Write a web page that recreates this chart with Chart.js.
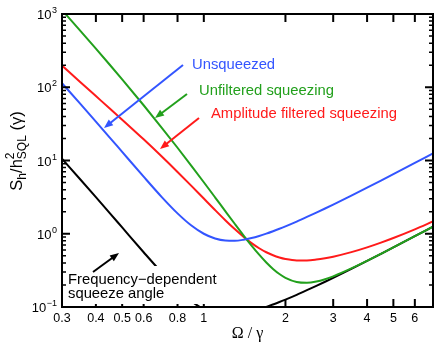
<!DOCTYPE html>
<html>
<head>
<meta charset="utf-8">
<script src="https://cdn.jsdelivr.net/npm/chart.js@4/dist/chart.umd.min.js"></script>
<style>
  html, body { margin: 0; padding: 0; background: #fff; }
</style>
</head>
<body>
<canvas id="c" width="436" height="347"></canvas>
<script>
// Omega / gamma
const freq = [0.3, 0.35, 0.4, 0.45, 0.5, 0.6, 0.7, 0.8, 0.9, 1.0, 1.1, 1.2, 1.3, 1.4, 1.5, 1.6,
  1.7, 1.8, 1.9, 2.0, 2.2, 2.4, 2.6, 2.8, 3.0, 3.5, 4, 4.5, 5, 6, 7];

// S_h / h_SQL^2(gamma)
const unsqueezed = [113.5, 59.64, 33.97, 20.58, 13.11, 6.014, 3.168, 1.899, 1.295, 1.0, 0.8616,
  0.8077, 0.8027, 0.8279, 0.8733, 0.9329, 1.003, 1.0825, 1.169, 1.2625, 1.467, 1.695, 1.943,
  2.212, 2.501, 3.313, 4.25, 5.313, 6.5, 9.25, 12.5];
const unfiltered = [1132.6, 593.7, 336.8, 202.8, 128.0, 56.77, 27.99, 14.93, 8.466, 5.05, 3.146,
  2.037, 1.369, 0.9533, 0.689, 0.5176, 0.405, 0.3307, 0.2817, 0.25, 0.2191, 0.2136, 0.2222,
  0.2394, 0.2623, 0.3363, 0.4273, 0.5324, 0.6506, 0.9252, 1.25];
const ampFiltered = [197.7, 117.9, 75.73, 51.27, 36.1, 19.45, 11.33, 6.983, 4.504, 3.025, 2.112,
  1.533, 1.158, 0.911, 0.7457, 0.6343, 0.5588, 0.508, 0.4742, 0.4525, 0.4328, 0.4327, 0.4439,
  0.4625, 0.4862, 0.5609, 0.6522, 0.7574, 0.8756, 1.15, 1.475];
const freqDepAngle = [10.56, 5.55, 3.16, 1.914, 1.219, 0.559, 0.2946, 0.1766, 0.1204, 0.093,
  0.082, 0.0785, 0.079, 0.0822, 0.087, 0.0933, 0.1003, 0.1083, 0.1169, 0.1263, 0.1467,
  0.1695, 0.1943, 0.2212, 0.2501, 0.3313, 0.425, 0.5313, 0.65, 0.925, 1.25];

const xTicks = [0.3, 0.4, 0.5, 0.6, 0.8, 1, 2, 3, 4, 5, 6];
const yDecades = [-1, 0, 1, 2, 3];

const BLUE = "#3355ff", GREEN = "#22a01c", RED = "#ff1a1a", BLACK = "#000";
const SANS = '"Liberation Sans", Arial, Helvetica, sans-serif';

const pts = (arr) => freq.map((f, i) => ({ x: f, y: arr[i] }));
const series = (data, color) => ({
  data: pts(data),
  borderColor: color,
  borderWidth: 2,
  pointRadius: 0,
  cubicInterpolationMode: "monotone",
  clip: 0,
});

function arrow(ctx, x1, y1, x2, y2, color) {
  const a = Math.atan2(y2 - y1, x2 - x1);
  const hl = 9, hw = 3.6;
  ctx.strokeStyle = color;
  ctx.fillStyle = color;
  ctx.lineWidth = 2;
  ctx.beginPath();
  ctx.moveTo(x1, y1);
  ctx.lineTo(x2 - Math.cos(a) * hl * 0.8, y2 - Math.sin(a) * hl * 0.8);
  ctx.stroke();
  ctx.beginPath();
  ctx.moveTo(x2, y2);
  ctx.lineTo(x2 - Math.cos(a) * hl - Math.sin(a) * hw, y2 - Math.sin(a) * hl + Math.cos(a) * hw);
  ctx.lineTo(x2 - Math.cos(a) * hl + Math.sin(a) * hw, y2 - Math.sin(a) * hl - Math.cos(a) * hw);
  ctx.closePath();
  ctx.fill();
}

function text(ctx, s, x, y, size, color, align) {
  ctx.font = `${size}px ${SANS}`;
  ctx.fillStyle = color;
  ctx.textAlign = align || "left";
  ctx.textBaseline = "alphabetic";
  ctx.fillText(s, x, y);
}

const decor = {
  id: "decor",
  afterDraw(chart) {
    const ctx = chart.ctx;
    const { left, right, top, bottom } = chart.chartArea;
    const xs = chart.scales.x, ys = chart.scales.y;
    ctx.save();

    // frame
    ctx.strokeStyle = BLACK;
    ctx.lineWidth = 2;
    ctx.strokeRect(left, top, right - left, bottom - top);

    // x ticks, inward top and bottom
    ctx.lineWidth = 2;
    ctx.beginPath();
    xTicks.forEach((v) => {
      const px = xs.getPixelForValue(v);
      ctx.moveTo(px, bottom); ctx.lineTo(px, bottom - 8);
      ctx.moveTo(px, top); ctx.lineTo(px, top + 8);
    });
    ctx.stroke();

    // y ticks, inward left and right
    yDecades.forEach((d) => {
      const base = Math.pow(10, d);
      ctx.lineWidth = 2;
      ctx.beginPath();
      const py = ys.getPixelForValue(base);
      ctx.moveTo(left, py); ctx.lineTo(left + 8, py);
      ctx.moveTo(right, py); ctx.lineTo(right - 8, py);
      ctx.stroke();
      if (d < 3) {
        ctx.lineWidth = 1.5;
        ctx.beginPath();
        for (let k = 2; k <= 9; k++) {
          const p = ys.getPixelForValue(k * base);
          ctx.moveTo(left, p); ctx.lineTo(left + 4, p);
          ctx.moveTo(right, p); ctx.lineTo(right - 4, p);
        }
        ctx.stroke();
      }
    });

    // x tick labels
    xTicks.forEach((v) => {
      text(ctx, String(v), xs.getPixelForValue(v), bottom + 15, 12.5, BLACK, "center");
    });

    // y tick labels 10^n
    yDecades.forEach((d) => {
      const py = ys.getPixelForValue(Math.pow(10, d));
      const ex = d < 0 ? "\u2212" + (-d) : String(d);
      ctx.font = `9px ${SANS}`;
      const ew = ctx.measureText(ex).width;
      const xr = 57;
      text(ctx, ex, xr, py - 1, 9, BLACK, "right");
      text(ctx, "10", xr - ew - 0.5, py + 5, 13, BLACK, "right");
    });

    // x title
    ctx.font = `16px "Liberation Serif", "Times New Roman", serif`;
    ctx.fillStyle = BLACK;
    ctx.textAlign = "center";
    ctx.fillText("\u03A9 / \u03B3", (left + right) / 2, 338);

    // y title, rotated
    ctx.save();
    ctx.translate(21.5, 151);
    ctx.rotate(-Math.PI / 2);
    const big = 16.5, small = 12;
    const parts = [
      { t: "S", s: big, dy: 0 },
      { t: "h", s: small, dy: 4.5 },
      { t: "/h", s: big, dy: 0 },
      { t: "2", s: small, dy: -7.5, t2: "SQL", dy2: 4.5 },
      { t: " (\u03B3)", s: big, dy: 0 },
    ];
    let total = 0;
    parts.forEach((p) => {
      ctx.font = `${p.s}px ${SANS}`;
      p.w = ctx.measureText(p.t).width;
      if (p.t2) p.w = Math.max(p.w, ctx.measureText(p.t2).width);
      total += p.w;
    });
    let cx = -total / 2;
    ctx.textAlign = "left";
    ctx.fillStyle = BLACK;
    parts.forEach((p) => {
      ctx.font = `${p.s}px ${SANS}`;
      ctx.fillText(p.t, cx, p.dy);
      if (p.t2) ctx.fillText(p.t2, cx, p.dy2);
      cx += p.w;
    });
    ctx.restore();

    // curve labels and arrows
    text(ctx, "Unsqueezed", 192, 68.5, 14.8, BLUE);
    text(ctx, "Unfiltered squeezing", 199, 94.5, 14.8, GREEN);
    text(ctx, "Amplitude filtered squeezing", 211, 117.5, 14.8, RED);
    arrow(ctx, 183, 65, 104, 128, BLUE);
    arrow(ctx, 187, 94, 155, 118, GREEN);
    arrow(ctx, 199, 118, 160, 149, RED);

    // boxed label for the black curve
    ctx.fillStyle = "#fff";
    ctx.fillRect(66, 266, 154, 38);
    text(ctx, "Frequency\u2212dependent", 68, 283.5, 14.8, BLACK);
    text(ctx, "squeeze angle", 68, 297.5, 14.8, BLACK);
    arrow(ctx, 93, 272, 119, 253, BLACK);

    ctx.restore();
  },
};

new Chart(document.getElementById("c"), {
  type: "line",
  data: {
    datasets: [
      series(unsqueezed, BLUE),
      series(unfiltered, GREEN),
      series(ampFiltered, RED),
      series(freqDepAngle, BLACK),
    ],
  },
  options: {
    responsive: false,
    animation: false,
    devicePixelRatio: 1,
    layout: { padding: { left: 62, right: 3, top: 14, bottom: 40 } },
    plugins: { legend: { display: false }, tooltip: { enabled: false } },
    scales: {
      x: { type: "logarithmic", min: 0.3, max: 7, display: false },
      y: { type: "logarithmic", min: 0.1, max: 1000, display: false },
    },
  },
  plugins: [decor],
});
</script>
</body>
</html>
